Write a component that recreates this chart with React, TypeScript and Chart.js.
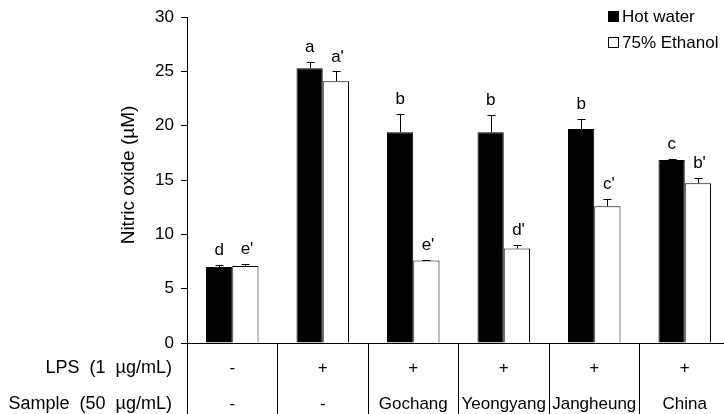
import React, { useEffect, useRef } from 'react';
import { Chart, registerables } from 'chart.js';

Chart.register(...registerables);

const categories = ['G1', 'G2', 'G3', 'G4', 'G5', 'G6'];
const lpsLabels = ['-', '+', '+', '+', '+', '+'];
const sampleLabels = ['-', '-', 'Gochang', 'Yeongyang', 'Jangheung', 'China'];
const hotWater = [7.0, 25.3, 19.4, 19.4, 19.7, 16.85];
const hotWaterErr = [0.15, 0.55, 1.7, 1.6, 0.95, 0.08];
const ethanol = [7.1, 24.1, 7.6, 8.7, 12.6, 14.7];
const ethanolErr = [0.2, 0.9, 0.08, 0.33, 0.65, 0.46];
const hotLetters = ['d', 'a', 'b', 'b', 'b', 'c'];
const ethanolLetters = ["e'", "a'", "e'", "d'", "c'", "b'"];
const seriesNames = ['Hot water', '75% Ethanol'];
const rowHeaders = ['LPS  (1  µg/mL)', 'Sample  (50  µg/mL)'];
const yTitle = 'Nitric oxide (µM)';

const FAMILY = '"Liberation Sans", Arial, Helvetica, sans-serif';

const overlayPlugin = {
  id: 'overlay',
  afterDatasetsDraw(chart: any) {
    const ctx = chart.ctx as CanvasRenderingContext2D;
    const yScale = chart.scales.y;
    const xScale = chart.scales.x;
    const values = [hotWater, ethanol];
    const errs = [hotWaterErr, ethanolErr];
    const letters = [hotLetters, ethanolLetters];
    ctx.save();
    ctx.strokeStyle = '#000';
    ctx.fillStyle = '#000';
    ctx.lineWidth = 1;
    ctx.font = `17px ${FAMILY}`;
    ctx.textBaseline = 'alphabetic';
    for (let d = 0; d < 2; d++) {
      const meta = chart.getDatasetMeta(d);
      meta.data.forEach((bar: any, i: number) => {
        const x = Math.round(bar.x) + 0.5;
        const yTop = yScale.getPixelForValue(values[d][i] + errs[d][i]);
        const yBar = bar.y;
        ctx.beginPath();
        ctx.moveTo(x, yBar);
        ctx.lineTo(x, Math.round(yTop) + 0.5);
        ctx.moveTo(x - 4, Math.round(yTop) + 0.5);
        ctx.lineTo(x + 4, Math.round(yTop) + 0.5);
        ctx.stroke();
        const txt = letters[d][i];
        const base = txt.replace("'", '');
        const w = ctx.measureText(base).width;
        ctx.textAlign = 'left';
        ctx.fillText(txt, bar.x - w / 2, yTop - 10);
      });
    }
    // bottom table
    ctx.font = `17px ${FAMILY}`;
    ctx.textAlign = 'center';
    for (let i = 0; i < categories.length; i++) {
      const cx = xScale.getPixelForValue(i);
      ctx.fillText(lpsLabels[i], cx, 373);
      ctx.fillText(sampleLabels[i], cx, 408.5);
    }
    ctx.font = `18px ${FAMILY}`;
    ctx.textAlign = 'right';
    ctx.fillText(rowHeaders[0], 172, 373);
    ctx.fillText(rowHeaders[1], 172, 408.5);
    // y title
    ctx.save();
    ctx.translate(128.5, 175);
    ctx.rotate(-Math.PI / 2);
    ctx.font = `19px ${FAMILY}`;
    ctx.textAlign = 'center';
    ctx.textBaseline = 'middle';
    ctx.fillText(yTitle, 0, 0);
    ctx.restore();
    // legend
    ctx.font = `17px ${FAMILY}`;
    ctx.textAlign = 'left';
    ctx.textBaseline = 'alphabetic';
    ctx.fillStyle = '#000';
    ctx.fillRect(608, 11, 11, 11);
    ctx.fillStyle = '#fff';
    ctx.fillRect(608, 37, 11, 11);
    ctx.strokeRect(608.5, 37.5, 10, 10);
    ctx.fillStyle = '#000';
    ctx.fillText(seriesNames[0], 622, 21.5);
    ctx.fillText(seriesNames[1], 622, 47.5);
    ctx.restore();
  },
};

export default function App() {
  const ref = useRef<HTMLCanvasElement | null>(null);
  useEffect(() => {
    if (!ref.current) return;
    const chart = new Chart(ref.current, {
      type: 'bar',
      data: {
        labels: categories,
        datasets: [
          {
            label: seriesNames[0],
            data: hotWater,
            backgroundColor: '#000',
            borderColor: '#000',
            borderWidth: 1,
            categoryPercentage: 0.58,
            barPercentage: 1.0,
          },
          {
            label: seriesNames[1],
            data: ethanol,
            backgroundColor: '#fff',
            borderColor: '#000',
            borderWidth: 1,
            categoryPercentage: 0.58,
            barPercentage: 1.0,
          },
        ],
      },
      options: {
        responsive: false,
        maintainAspectRatio: false,
        devicePixelRatio: 1,
        animation: false,
        layout: { padding: { left: 113, top: 17, right: 10, bottom: 0 } },
        plugins: {
          legend: { display: false },
          tooltip: { enabled: false },
        },
        scales: {
          x: {
            type: 'category',
            offset: true,
            grid: {
              display: true,
              drawOnChartArea: false,
              drawTicks: true,
              tickLength: 71,
              color: '#000',
              lineWidth: 1,
              offset: true,
            },
            border: { display: true, color: '#000', width: 1 },
            ticks: { display: false },
            afterFit: (s: any) => {
              s.height = 71;
            },
          },
          y: {
            min: 0,
            max: 30,
            ticks: {
              stepSize: 5,
              color: '#000',
              padding: 7,
              font: { family: FAMILY, size: 17 },
            },
            grid: {
              drawOnChartArea: false,
              drawTicks: true,
              tickLength: 6,
              color: '#000',
            },
            border: { display: true, color: '#000', width: 1 },
            title: { display: false },
            afterFit: (s: any) => {
              s.width = 74;
            },
          },
        },
      },
      plugins: [overlayPlugin],
    });
    return () => chart.destroy();
  }, []);
  return (
    <div
      style={{
        position: 'fixed',
        left: 0,
        top: 0,
        width: 724,
        height: 414,
        overflow: 'hidden',
        background: '#fff',
      }}
    >
      <canvas
        ref={ref}
        width={740}
        height={414}
        style={{ display: 'block', width: 740, height: 414 }}
      />
    </div>
  );
}
